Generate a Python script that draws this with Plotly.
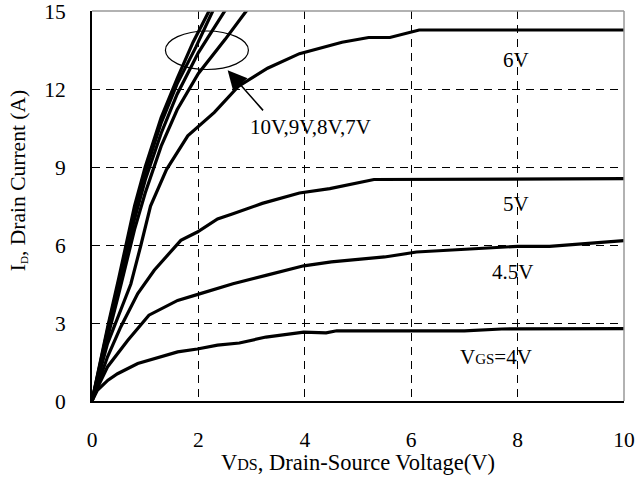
import plotly.graph_objects as go

# Output characteristics: drain current vs drain-source voltage for several gate voltages
vgs_10v_vds = [0, 0.1, 0.3, 0.5, 0.8, 1.0, 1.3, 1.6, 1.9, 2.2, 2.4]
vgs_10v_id = [0, 1.0, 2.9, 4.7, 7.5, 9.0, 10.9, 12.4, 13.8, 15.0, 15.7]

vgs_9v_vds = [0, 0.1, 0.3, 0.5, 0.8, 1.0, 1.3, 1.6, 1.95, 2.27, 2.45]
vgs_9v_id = [0, 0.95, 2.8, 4.55, 7.3, 8.8, 10.7, 12.2, 13.6, 15.0, 15.6]

vgs_8v_vds = [0, 0.1, 0.3, 0.5, 0.8, 1.0, 1.3, 1.6, 2.0, 2.48, 2.65]
vgs_8v_id = [0, 0.9, 2.7, 4.4, 7.0, 8.5, 10.3, 11.8, 13.4, 15.0, 15.5]

vgs_7v_vds = [0, 0.1, 0.3, 0.5, 0.8, 1.0, 1.3, 1.6, 2.0, 2.5, 2.9, 3.1]
vgs_7v_id = [0, 0.85, 2.5, 4.1, 6.6, 8.0, 9.8, 11.2, 12.6, 13.9, 15.0, 15.4]

vgs_6v_vds = [0, 0.1, 0.29, 0.54, 0.73, 0.92, 1.1, 1.4, 1.8, 2.3, 2.75, 3.3, 3.9, 4.7, 5.2, 5.6, 6.0, 6.15, 10]
vgs_6v_id = [0, 0.8, 2.2, 3.5, 4.5, 6.0, 7.5, 8.9, 10.2, 11.1, 12.1, 12.8, 13.36, 13.8, 13.98, 13.98, 14.2, 14.27, 14.27]

vgs_5v_vds = [0, 0.1, 0.29, 0.54, 0.86, 1.17, 1.67, 1.98, 2.36, 2.65, 3.2, 3.9, 4.47, 5.3, 10]
vgs_5v_id = [0, 0.6, 1.69, 2.85, 4.13, 5.03, 6.18, 6.5, 7.0, 7.2, 7.6, 8.0, 8.17, 8.52, 8.55]

vgs_45v_vds = [0, 0.1, 0.29, 0.67, 1.07, 1.61, 1.99, 2.65, 3.27, 3.98, 4.5, 5.5, 6.1, 6.7, 8.0, 8.6, 9.5, 10]
vgs_45v_id = [0, 0.5, 1.31, 2.33, 3.3, 3.87, 4.1, 4.51, 4.83, 5.2, 5.35, 5.54, 5.73, 5.8, 5.95, 5.95, 6.1, 6.17]

vgs_4v_vds = [0, 0.1, 0.3, 0.48, 0.86, 1.17, 1.61, 1.98, 2.36, 2.77, 3.27, 3.98, 4.4, 4.6, 7.0, 7.7, 10]
vgs_4v_id = [0, 0.41, 0.8, 1.05, 1.44, 1.63, 1.89, 2.0, 2.15, 2.23, 2.46, 2.65, 2.62, 2.7, 2.7, 2.77, 2.78]

curves = [
    (vgs_10v_vds, vgs_10v_id),
    (vgs_9v_vds, vgs_9v_id),
    (vgs_8v_vds, vgs_8v_id),
    (vgs_7v_vds, vgs_7v_id),
    (vgs_6v_vds, vgs_6v_id),
    (vgs_5v_vds, vgs_5v_id),
    (vgs_45v_vds, vgs_45v_id),
    (vgs_4v_vds, vgs_4v_id),
]

x_ticks = [0, 2, 4, 6, 8, 10]
y_ticks = [0, 3, 6, 9, 12, 15]

FONT = "Liberation Serif, Times New Roman, serif"

fig = go.Figure()
for vds, i_d in curves:
    fig.add_trace(go.Scatter(x=vds, y=i_d, mode="lines",
                             line=dict(color="black", width=3.2),
                             showlegend=False, hoverinfo="skip"))

labels = [
    (7.97, 13.13, "6V"),
    (7.97, 7.59, "5V"),
    (7.91, 4.96, "4.5V"),
    (7.6, 1.69, "V<span style='font-size:15px'>GS</span>=4V"),
    (4.1, 10.54, "10V,9V,8V,7V"),
]
annotations = [dict(x=x, y=y, xref="x", yref="y", text=t, showarrow=False,
                    font=dict(family=FONT, size=21, color="black"))
               for x, y, t in labels]

# arrow pointing at the group of high gate-voltage curves
annotations.append(dict(x=2.55, y=12.72, ax=3.24, ay=11.12, xref="x", yref="y",
                        axref="x", ayref="y", text="", showarrow=True,
                        arrowhead=2, arrowsize=2.4, arrowwidth=1.6,
                        arrowcolor="black"))

# axis titles
annotations.append(dict(x=0.5, y=-0.158, xref="paper", yref="paper",
                        text="V<span style='font-size:16px'>DS</span>, Drain-Source Voltage(V)",
                        showarrow=False, xanchor="center", yanchor="middle",
                        font=dict(family=FONT, size=22.5, color="black")))
annotations.append(dict(x=-0.14, y=0.565, xref="paper", yref="paper",
                        text="I<span style='font-size:16px'><sub>D</sub></span>, Drain Current (A)",
                        textangle=-90, showarrow=False, xanchor="center",
                        yanchor="middle",
                        font=dict(family=FONT, size=21.5, color="black")))

shapes = [
    # ellipse around the 7V-10V curves
    dict(type="circle", xref="x", yref="y", x0=1.38, x1=2.94, y0=12.75, y1=14.23,
         line=dict(color="black", width=1.2)),
    # top and right frame edges
    dict(type="line", xref="paper", yref="paper", x0=0, x1=1, y0=1, y1=1,
         line=dict(color="#999999", width=1.5)),
    dict(type="line", xref="paper", yref="paper", x0=1, x1=1, y0=0, y1=1,
         line=dict(color="#999999", width=1.5)),
]

axis_common = dict(showline=True, linecolor="black", linewidth=2,
                   showgrid=True, gridcolor="black", gridwidth=1,
                   griddash="8px,6px", zeroline=False, ticks="",
                   automargin=False, ticklabeloverflow="allow",
                   tickfont=dict(family=FONT, size=21.5, color="black"))

fig.update_layout(
    width=638, height=482,
    margin=dict(l=92, r=14, t=11, b=81),
    paper_bgcolor="white", plot_bgcolor="white",
    annotations=annotations, shapes=shapes,
    xaxis=dict(range=[0, 10], tickvals=x_ticks, ticklabelstandoff=18, **axis_common),
    yaxis=dict(range=[0, 15], tickvals=y_ticks, ticklabelstandoff=20, **axis_common),
)

fig.write_html("out.html")
